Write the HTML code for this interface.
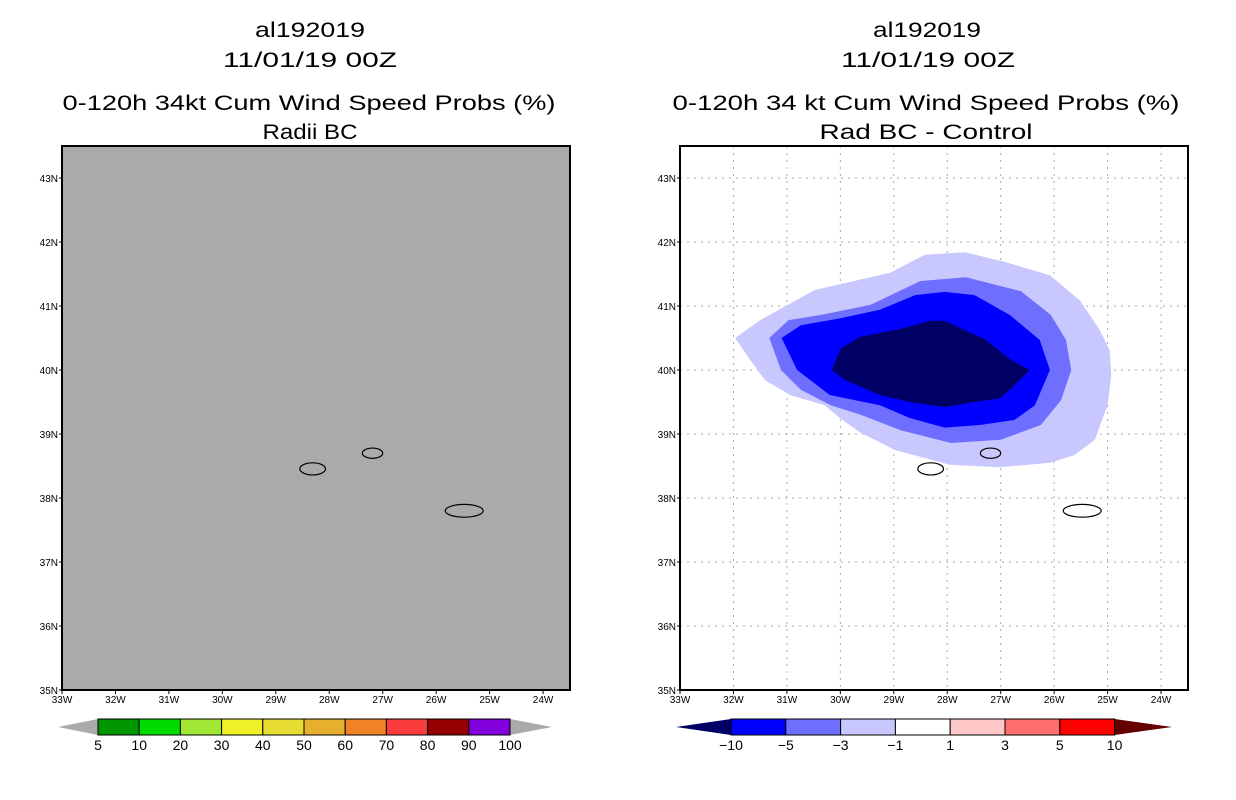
<!DOCTYPE html>
<html><head><meta charset="utf-8"><style>
body{margin:0;background:#fff;width:1236px;height:800px;overflow:hidden}
svg{display:block;font-family:"Liberation Sans",sans-serif}
</style></head><body>
<svg id="s" width="1236" height="800">
<g font-size="21" text-anchor="middle" fill="#000">
<text x="310" y="37" textLength="110" lengthAdjust="spacingAndGlyphs">al192019</text>
<text x="310" y="67" textLength="174" lengthAdjust="spacingAndGlyphs">11/01/19 00Z</text>
<text x="309" y="110" textLength="493" lengthAdjust="spacingAndGlyphs">0-120h 34kt Cum Wind Speed Probs (%)</text>
<text x="310" y="139" textLength="95" lengthAdjust="spacingAndGlyphs">Radii BC</text>
</g>
<g font-size="21" text-anchor="middle" fill="#000">
<text x="927" y="37" textLength="108" lengthAdjust="spacingAndGlyphs">al192019</text>
<text x="928" y="67" textLength="174" lengthAdjust="spacingAndGlyphs">11/01/19 00Z</text>
<text x="926" y="110" textLength="507" lengthAdjust="spacingAndGlyphs">0-120h 34 kt Cum Wind Speed Probs (%)</text>
<text x="926" y="139" textLength="213" lengthAdjust="spacingAndGlyphs">Rad BC - Control</text>
</g>
<rect x="62" y="146" width="508" height="544" fill="#aaaaaa"/>
<rect x="680" y="146" width="508" height="544" fill="#fff"/>
<g id="rgrid"></g>
<g id="rfill"></g>
<g id="islands"></g>
<rect x="62" y="146" width="508" height="544" fill="none" stroke="#000" stroke-width="2"/>
<rect x="680" y="146" width="508" height="544" fill="none" stroke="#000" stroke-width="2"/>
<g id="axes" font-size="10" fill="#000"></g>
<g id="cbars"></g>
</svg>
<script>
const lonTicks=[-33,-32,-31,-30,-29,-28,-27,-26,-25,-24];
const latTicks=[35,36,37,38,39,40,41,42,43];
// difference contours (lon, lat), outer to inner: -1, -3, -5, -10
const lvlColors=['#c8c8ff','#6e6eff','#0000ff','#000064'];
const lvl1Lon=[-31.97,-31.5,-30.48,-29.07,-28.42,-27.67,-26.93,-26.08,-25.52,-25.15,-24.96,-24.93,-25.0,-25.24,-25.62,-26.08,-27.02,-27.95,-28.98,-29.64,-30.01,-30.29,-30.94,-31.41,-31.69];
const lvl1Lat=[40.5,40.78,41.25,41.52,41.8,41.84,41.69,41.48,41.09,40.63,40.31,39.92,39.45,38.91,38.67,38.55,38.48,38.52,38.75,39.03,39.25,39.45,39.61,39.84,40.16];
const lvl2Lon=[-31.33,-30.97,-30.37,-29.43,-28.5,-27.65,-26.62,-26.06,-25.78,-25.68,-25.87,-26.25,-27.0,-27.93,-28.87,-29.62,-30.18,-30.74,-31.11];
const lvl2Lat=[40.5,40.78,40.86,41.02,41.39,41.45,41.23,40.86,40.47,40.0,39.53,39.14,38.91,38.86,39.06,39.3,39.45,39.69,40.0];
const lvl3Lon=[-31.1,-30.74,-30.0,-29.26,-28.6,-28.05,-27.49,-26.83,-26.27,-26.08,-26.36,-26.74,-27.39,-28.05,-28.7,-29.26,-30.2,-30.81];
const lvl3Lat=[40.5,40.7,40.81,40.94,41.17,41.22,41.17,40.86,40.47,40.0,39.45,39.22,39.14,39.1,39.25,39.45,39.61,40.0];
const lvl4Lon=[-30.16,-30.0,-29.63,-28.88,-28.32,-28.05,-27.3,-26.83,-26.46,-26.83,-27.02,-27.49,-28.05,-28.7,-29.26,-29.91];
const lvl4Lat=[40.0,40.33,40.52,40.64,40.77,40.77,40.48,40.17,40.0,39.69,39.56,39.5,39.42,39.5,39.61,39.84];
const leftBins=['5','10','20','30','40','50','60','70','80','90','100'];
const leftColors=['#009600','#00dc00','#a0e632','#f0f028','#e6dc32','#e6af2d','#f08228','#fa3c3c','#960000','#8200dc'];
const rightBins=['-10','-5','-3','-1','1','3','5','10'];
const rightColors=['#0000ff','#6e6eff','#c8c8ff','#ffffff','#ffc8c8','#ff6e6e','#ff0000'];
const NS='http://www.w3.org/2000/svg';
function mk(p,t,a){const e=document.createElementNS(NS,t);for(const k in a)e.setAttribute(k,a[k]);p.appendChild(e);return e;}
function xs(x0){return lon=>x0+(lon+33)*53.45;}
function ys(lat){return 178+(43-lat)*64;}
const xL=xs(62),xR=xs(680);
const rg=document.getElementById('rgrid');
lonTicks.slice(1).forEach(l=>{const e=mk(rg,'line',{x1:xR(l),x2:xR(l),y1:146,y2:690,stroke:'#aaa','stroke-dasharray':'2,5'});

});
latTicks.slice(1).forEach(l=>{const e=mk(rg,'line',{x1:680,x2:1188,y1:ys(l),y2:ys(l),stroke:'#aaa','stroke-dasharray':'2,5'});

});
const rf=document.getElementById('rfill');
[[lvl1Lon,lvl1Lat],[lvl2Lon,lvl2Lat],[lvl3Lon,lvl3Lat],[lvl4Lon,lvl4Lat]].forEach((p,i)=>{
const pts=p[0].map((lo,j)=>xR(lo).toFixed(1)+','+ys(p[1][j]).toFixed(1)).join(' ');
const e=mk(rf,'polygon',{points:pts,fill:lvlColors[i]});

});
const isl=document.getElementById('islands');
const islandShapes=[[-28.55,-28.07,38.36,38.55],[-27.38,-27.0,38.62,38.78],[-25.83,-25.12,37.7,37.9]];
[xL,xR].forEach((X,pi)=>islandShapes.forEach((s,k)=>{
const cx=(X(s[0])+X(s[1]))/2,cy=(ys(s[2])+ys(s[3]))/2,rx=(X(s[1])-X(s[0]))/2,ry=(ys(s[2])-ys(s[3]))/2;
const e=mk(isl,'ellipse',{cx,cy,rx,ry,fill:'none',stroke:'#000','stroke-width':1.2});

}));
const ax=document.getElementById('axes');
[[62,xL],[680,xR]].forEach(([x0,X])=>{
lonTicks.forEach(l=>{const t=mk(ax,'text',{x:X(l),y:703,'text-anchor':'middle'});t.textContent=(-l)+'W';


mk(ax,'line',{x1:X(l),x2:X(l),y1:690,y2:694,stroke:'#000'});});
latTicks.forEach(l=>{const t=mk(ax,'text',{x:x0-4,y:ys(l)+4,'text-anchor':'end'});t.textContent=l+'N';


mk(ax,'line',{x1:x0-3,x2:x0,y1:ys(l),y2:ys(l),stroke:'#000'});});
});
const cb=document.getElementById('cbars');
function bar(x0,tipL,tipR,w,colors,labels,lc,rc,nm){
const n=colors.length;
let e=mk(cb,'polygon',{points:`${tipL},727 ${x0},719 ${x0},735`,fill:lc});


const xe=x0+n*w;
e=mk(cb,'polygon',{points:`${xe},719 ${tipR},727 ${xe},735`,fill:rc});


colors.forEach((c,i)=>{const r=mk(cb,'rect',{x:x0+i*w,y:719,width:w,height:16,fill:c,stroke:'#000','stroke-width':1});

});
labels.forEach((l,i)=>{const t=mk(cb,'text',{x:x0+i*w,y:750,'text-anchor':'middle','font-size':14});t.textContent=l.replace('-','\u2212');

});
}
bar(98,58,552,41.2,leftColors,leftBins,'#aaa','#aaa','left-colorbar');
bar(731,676,1172,54.8,rightColors,rightBins,'#000064','#640000','right-colorbar');
</script>
</body></html>
